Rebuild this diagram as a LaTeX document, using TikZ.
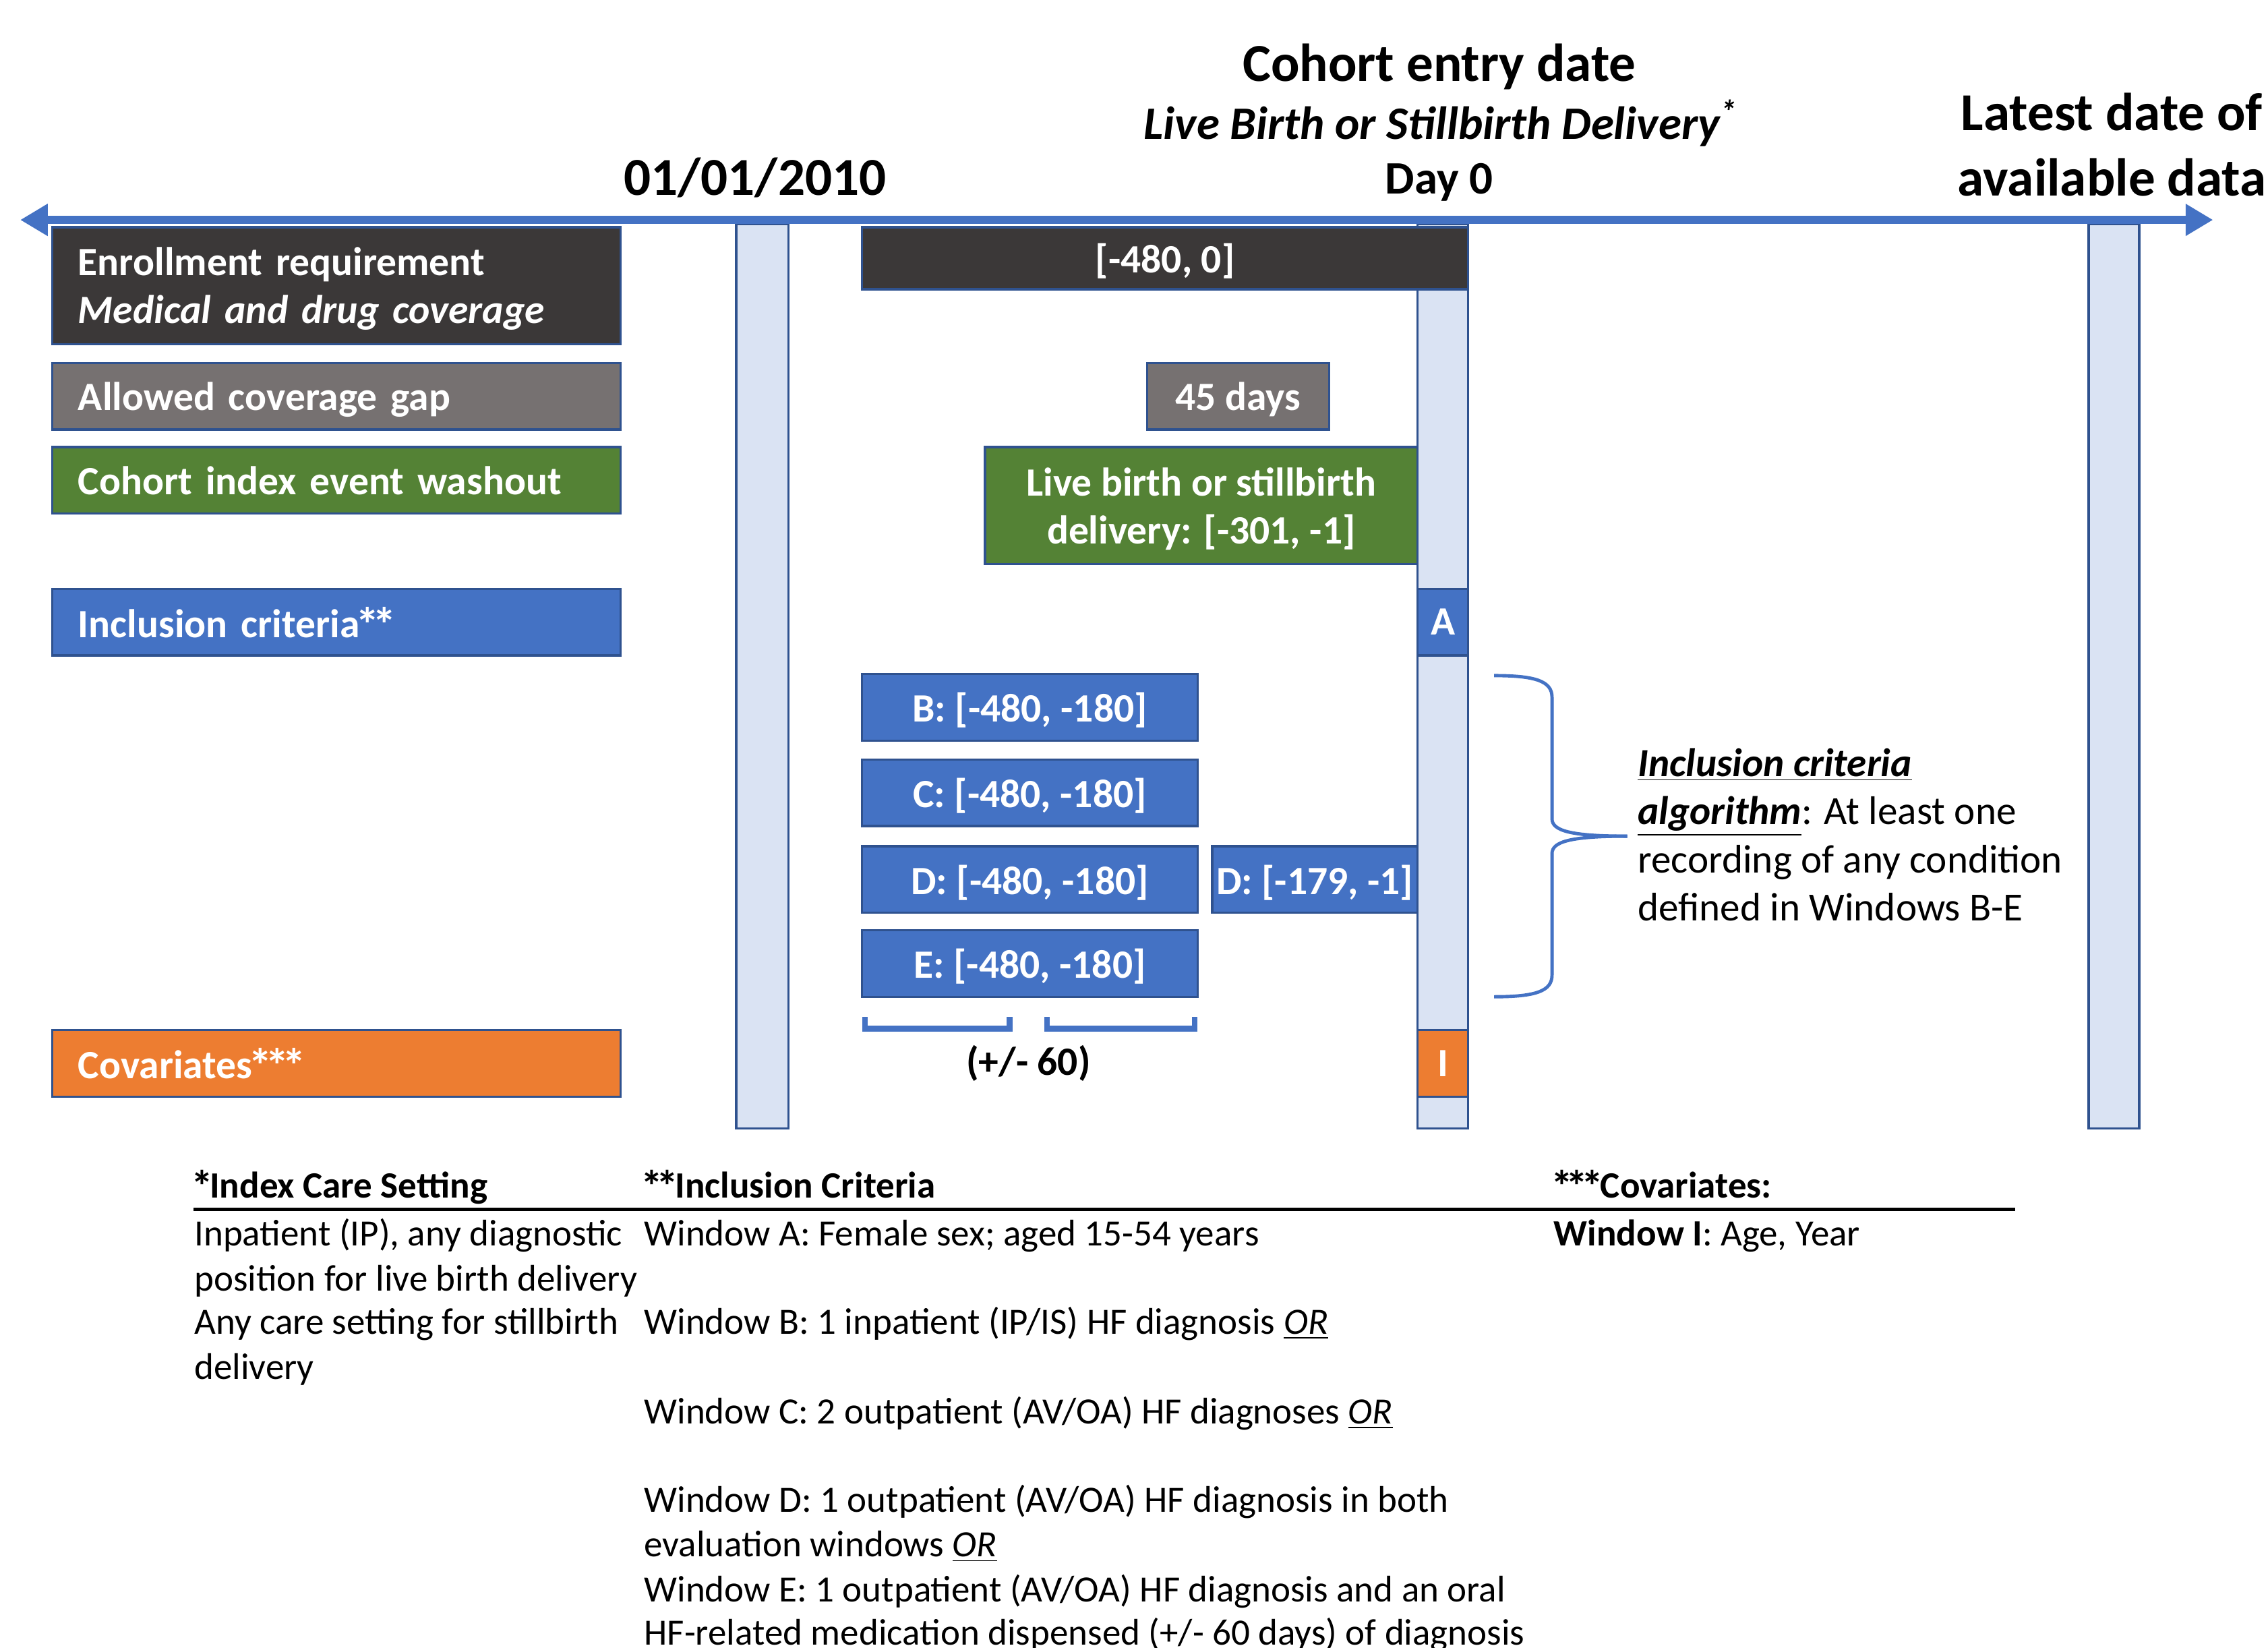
\documentclass[tikz,border=0pt]{standalone}
\usepackage{fontspec}
\usepackage{graphicx}
\setmainfont{Carlito}
\usetikzlibrary{arrows.meta}
\definecolor{cDark}{HTML}{3B3838}
\definecolor{cGray}{HTML}{767171}
\definecolor{cGreen}{HTML}{548235}
\definecolor{cBlue}{HTML}{4472C4}
\definecolor{cOrange}{HTML}{ED7D31}
\definecolor{cLight}{HTML}{DAE3F3}
\definecolor{cBorder}{HTML}{2F528F}
\newcommand{\astk}{\kern-0.09em\raisebox{-0.1em}{\scalebox{1.2}{*}}\kern-0.09em}
\begin{document}
\begin{tikzpicture}[x=0.02cm,y=-0.02cm,
  boxbase/.style={draw=cBorder, line width=0.9pt, text=white, font=\fontsize{15.8}{18.8}\selectfont\bfseries, inner sep=0pt, align=center},
  box/.style={boxbase, text depth=0pt},
  lboxbase/.style={minimum width=7.86cm, text width=7.14cm, inner xsep=0.36cm, align=left},
  lbox/.style={box, lboxbase},
  bar/.style={draw=cBorder, line width=0.9pt, fill=cLight, minimum width=0.7cm, minimum height=12.5cm, inner sep=0pt},
  hdr/.style={font=\fontsize{21}{25.6}\selectfont\bfseries, inner sep=0pt},
  tb/.style={font=\fontsize{14.6}{17.6}\selectfont, anchor=mid west, inner sep=0pt, yshift=-0.08cm},
  tbh/.style={tb, font=\fontsize{14.6}{17.6}\selectfont\bfseries, yshift=-0.02cm},
  brk/.style={cBlue, line width=2.2pt},
  brace/.style={cBlue, line width=1.3pt}]
\useasboundingbox (0,0) rectangle (1568,1139);

% vertical bars
\node[bar, minimum width=0.72cm] (bar1) at (527,467.5) {};
\node[bar] (bar2) at (997.5,467.5) {};
\node[bar] (bar3) at (1461.5,467.5) {};

% timeline
\coordinate (tl) at (14,152);
\coordinate (tr) at (1530,152);
\draw[cBlue, line width=3pt, {Triangle[length=0.38cm,width=0.42cm]}-{Triangle[length=0.38cm,width=0.42cm]}] (tl) -- (tr);

% headers
\node[hdr] (d2010) at (522,123) {01/01/2010};
\node[hdr] (ced) at (995,46) {Cohort entry date};
\node[font=\fontsize{18.3}{20}\selectfont\bfseries\itshape, inner sep=0pt] (lbsd) at (996,85) {Live Birth or Stillbirth Delivery\textsuperscript{*}};
\node[font=\fontsize{18.3}{20}\selectfont\bfseries, inner sep=0pt] (day0) at (995,126) {Day 0};
\node[hdr, align=center] (latest) at (1460,100) {Latest date of\\available data};

% left label boxes
\node[boxbase, lboxbase, fill=cDark, minimum height=1.62cm, text depth=19.2pt] (enr) at (232.5,197.5) {Enrollment requirement\\\textit{Medical and drug coverage}};
\node[lbox, fill=cGray, minimum height=0.92cm] (gap) at (232.5,274) {Allowed coverage gap};
\node[lbox, fill=cGreen, minimum height=0.92cm] (wash) at (232.5,332) {Cohort index event washout};
\node[lbox, fill=cBlue, minimum height=0.92cm] (incl) at (232.5,430) {Inclusion criteria\astk\astk};
\node[lbox, fill=cOrange, minimum height=0.92cm] (cov) at (232.5,735) {Covariates\astk\astk\astk};

% interval boxes
\node[box, fill=cDark, minimum width=8.38cm, minimum height=0.86cm] (e480) at (805.5,178.5) {[-480, 0]};
\node[box, fill=cGray, minimum width=2.52cm, minimum height=0.92cm] (d45) at (856,274) {45 days};
\node[box, fill=cGreen, minimum width=5.98cm, minimum height=1.62cm] (lbd) at (830.5,349.5) {Live birth or stillbirth\\delivery: [-301, -1]};
\node[box, fill=cBlue, minimum width=0.7cm, minimum height=0.92cm] (wa) at (997.5,430) {A};
\node[box, fill=cBlue, minimum width=4.64cm, minimum height=0.92cm] (wb) at (712,489) {B: [-480, -180]};
\node[box, fill=cBlue, minimum width=4.64cm, minimum height=0.92cm] (wc) at (712,548) {C: [-480, -180]};
\node[box, fill=cBlue, minimum width=4.64cm, minimum height=0.92cm] (wdl) at (712,608) {D: [-480, -180]};
\node[box, fill=cBlue, minimum width=2.84cm, minimum height=0.92cm] (wdr) at (909,608) {D: [-179, -1]};
\node[box, fill=cBlue, minimum width=4.64cm, minimum height=0.92cm] (we) at (712,666) {E: [-480, -180]};
\node[box, fill=cOrange, minimum width=0.7cm, minimum height=0.92cm] (wi) at (997.5,735) {I};

% +/- 60 brackets
\coordinate (k1a) at (598,703); \coordinate (k1b) at (598,711);
\coordinate (k1c) at (698,711); \coordinate (k1d) at (698,703);
\coordinate (k2a) at (724,703); \coordinate (k2b) at (724,711);
\coordinate (k2c) at (826,711); \coordinate (k2d) at (826,703);
\draw[brk] (k1a) -- (k1b) -- (k1c) -- (k1d);
\draw[brk] (k2a) -- (k2b) -- (k2c) -- (k2d);
\node[font=\fontsize{15.8}{18}\selectfont\bfseries, inner sep=0pt] (pm) at (711,735) {(+/- 60)};

% curly brace
\coordinate (brT) at (1033,467);
\coordinate (brB) at (1033,689);
\coordinate (brM) at (1125,578);
\draw[brace] (brT) .. controls (1062,467) and (1073,471) .. (1073,482) -- (1073,566)
  .. controls (1073,574) and (1085,578) .. (brM);
\draw[brace] (brB) .. controls (1062,689) and (1073,685) .. (1073,674) -- (1073,590)
  .. controls (1073,582) and (1085,578) .. (brM);

\node[anchor=west, align=left, inner sep=0pt, font=\fontsize{15.7}{19}\selectfont] (alg) at (1132,577)
  {\underline{\textbf{\textit{Inclusion criteria}}}\\
   \underline{\textbf{\textit{algorithm}}}: At least one\\
   recording of any condition\\
   defined in Windows B-E};

% bottom table
\node[tbh] (h1) at (134,819) {\astk Index Care Setting};
\node[tbh] (h2) at (445,819) {\astk\astk Inclusion Criteria};
\node[tbh] (h3) at (1074,819) {\astk\astk\astk Covariates:};
\coordinate (rl) at (134,836);
\coordinate (rr) at (1393,836);
\draw[line width=1.2pt] (rl) -- (rr);

\node[tb] (t1a) at (134,853) {Inpatient (IP), any diagnostic};
\node[tb] (t1b) at (445,853) {Window A: Female sex; aged 15-54 years};
\node[tb] (t1c) at (1074,853) {\textbf{Window I}: Age, Year};
\node[tb] (t2a) at (134,884) {position for live birth delivery};
\node[tb] (t3a) at (134,914) {Any care setting for stillbirth};
\node[tb] (t3b) at (445,914) {Window B: 1 inpatient (IP/IS) HF diagnosis \underline{\textit{OR}}};
\node[tb] (t4a) at (134,945) {delivery};
\node[tb] (t5b) at (445,976) {Window C: 2 outpatient (AV/OA) HF diagnoses \underline{\textit{OR}}};
\node[tb] (t6b) at (445,1037) {Window D: 1 outpatient (AV/OA) HF diagnosis in both};
\node[tb] (t7b) at (445,1068) {evaluation windows \underline{\textit{OR}}};
\node[tb] (t8b) at (445,1099) {Window E: 1 outpatient (AV/OA) HF diagnosis and an oral};
\node[tb] (t9b) at (445,1129) {HF-related medication dispensed (+/- 60 days) of diagnosis};
\end{tikzpicture}
\end{document}
